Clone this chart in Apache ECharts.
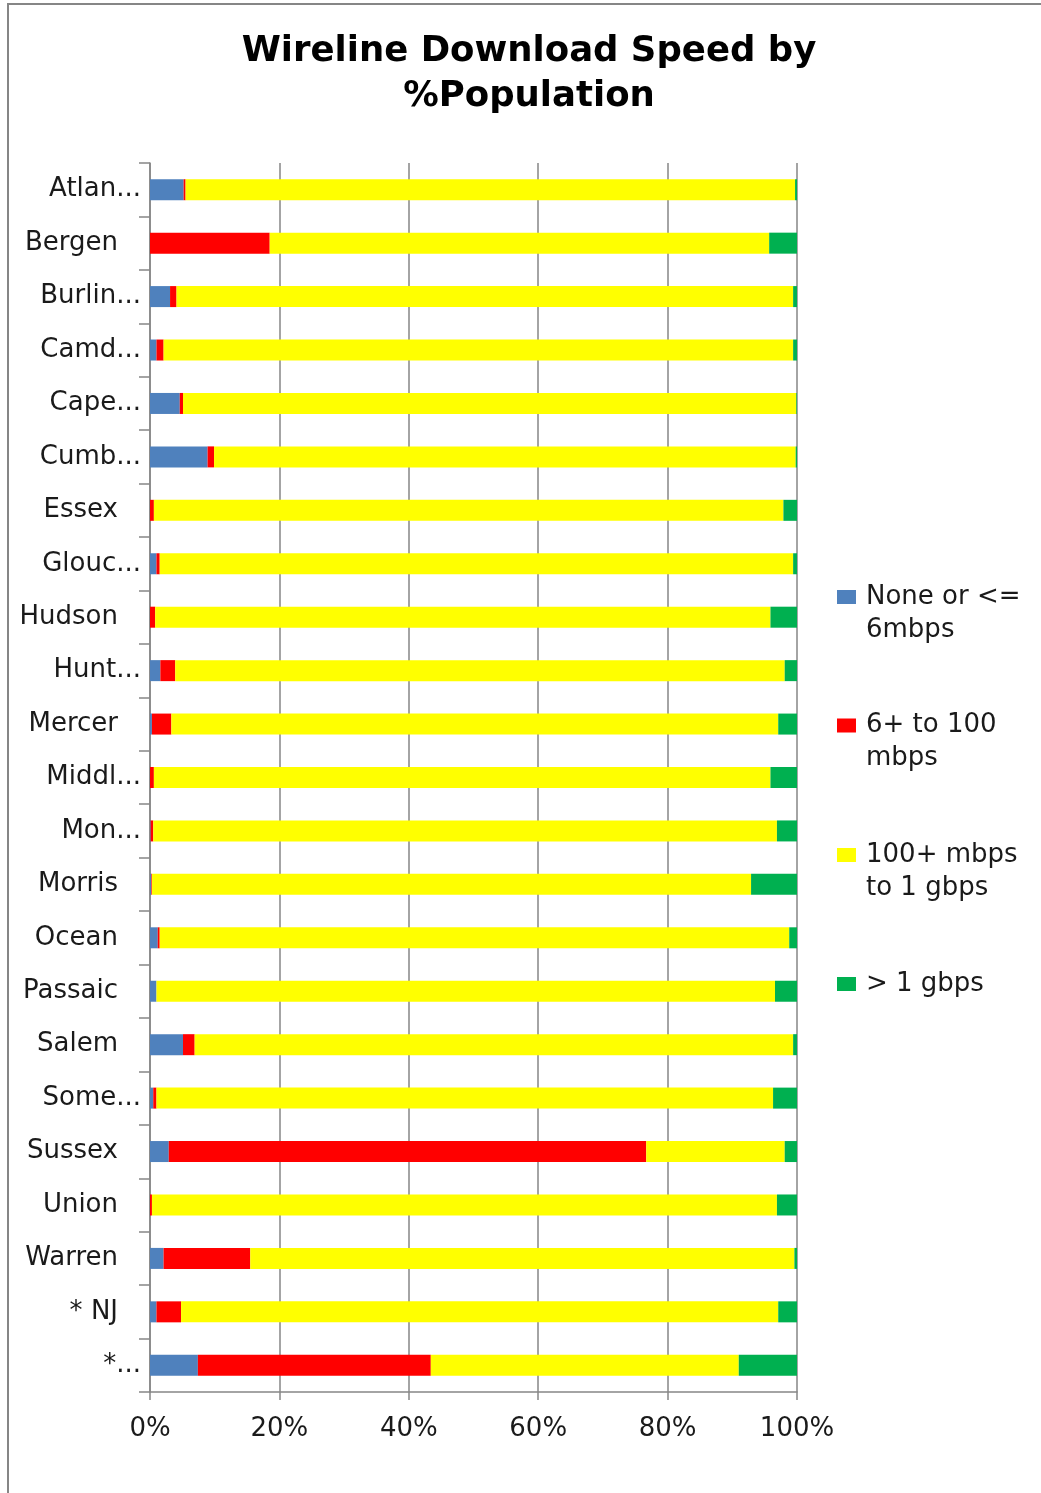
<!DOCTYPE html>
<html>
<head>
<meta charset="utf-8">
<script src="https://cdn.jsdelivr.net/npm/echarts@6/dist/echarts.min.js"></script>
<style>
html,body{margin:0;padding:0;background:#fff;}
#chart{width:1041px;height:1493px;}
</style>
</head>
<body>
<div id="chart"></div>
<script>
var categories = ["Atlan...", "Bergen", "Burlin...", "Camd...", "Cape...", "Cumb...", "Essex", "Glouc...", "Hudson", "Hunt...", "Mercer", "Middl...", "Mon...", "Morris", "Ocean", "Passaic", "Salem", "Some...", "Sussex", "Union", "Warren", "* NJ", "*..."];
var seriesNames = ["None or <=\n6mbps", "6+ to 100\nmbps", "100+ mbps\nto 1 gbps", "> 1 gbps"];
var noneOrLow = [5.2, 0, 3.1, 1.0, 4.6, 8.9, 0, 1.0, 0, 1.6, 0.3, 0, 0.1, 0.2, 1.2, 1.0, 5.1, 0.5, 2.9, 0, 2.1, 1.0, 7.4];
var mid = [0.3, 18.5, 1.0, 1.1, 0.5, 1.0, 0.6, 0.5, 0.8, 2.3, 3.0, 0.6, 0.4, 0.1, 0.3, 0, 1.8, 0.5, 73.8, 0.3, 13.4, 3.8, 36.0];
var high = [94.2, 77.2, 95.3, 97.3, 94.8, 89.9, 97.3, 97.9, 95.1, 94.2, 93.8, 95.3, 96.4, 92.6, 97.3, 95.6, 92.5, 95.3, 21.4, 96.6, 84.1, 92.3, 47.6];
var gig = [0.3, 4.3, 0.6, 0.6, 0.1, 0.2, 2.1, 0.6, 4.1, 1.9, 2.9, 4.1, 3.1, 7.1, 1.2, 3.4, 0.6, 3.7, 1.9, 3.1, 0.4, 2.9, 9.0];
var xTicks = [0, 20, 40, 60, 80, 100];
var colors = ["#4F81BD", "#FF0000", "#FFFF00", "#00B050"];

var FONT = "DejaVu Sans";
var FS = 26;
var gray = "#868686";
var textColor = "#1a1a1a";

var chart = echarts.init(document.getElementById('chart'), null, {renderer: 'canvas'});

var tallIcon = 'path://M0,0h19v14h-19z M24,47l0.01,0l0,0.01z';
var shortIcon = 'path://M0,0h19v14h-19z M24,14l0.01,0l0,-0.01z';
var legendTops = [580.5, 709, 838.5, 967.5];

var legends = seriesNames.map(function (name, i) {
  var single = name.indexOf('\n') < 0;
  return {
    show: true,
    orient: 'vertical',
    left: 837,
    top: legendTops[i],
    padding: 0,
    itemWidth: 24,
    itemHeight: single ? 14 : 47,
    selectedMode: false,
    data: [{name: name, icon: single ? shortIcon : tallIcon}],
    textStyle: {fontFamily: FONT, fontSize: FS, lineHeight: 33, color: textColor}
  };
});

var dataArrays = [noneOrLow, mid, high, gig];
var series = dataArrays.map(function (arr, i) {
  return {
    name: seriesNames[i],
    type: 'bar',
    stack: 'total',
    barWidth: 21,
    itemStyle: {color: colors[i]},
    emphasis: {disabled: true},
    data: arr
  };
});

chart.setOption({
  animation: false,
  backgroundColor: '#ffffff',
  title: {
    text: 'Wireline Download Speed by\n%Population',
    left: 529,
    textAlign: 'center',
    top: 29.5,
    padding: 0,
    textStyle: {fontFamily: FONT, fontWeight: 'bold', fontSize: 35.5, lineHeight: 45, color: '#000'}
  },
  graphic: [{
    type: 'rect',
    shape: {x: 8, y: 4, width: 1200, height: 1700},
    style: {fill: 'none', stroke: gray, lineWidth: 2},
    silent: true
  }],
  legend: legends,
  grid: {left: 150, right: 244, top: 163, bottom: 101, containLabel: false},
  xAxis: {
    type: 'value',
    min: 0,
    max: 100,
    interval: 20,
    axisLine: {show: true, lineStyle: {color: gray, width: 1.5}},
    axisTick: {show: true, length: 8, lineStyle: {color: gray, width: 1.5}},
    splitLine: {show: true, lineStyle: {color: gray, width: 1.5}},
    axisLabel: {
      margin: 24,
      fontFamily: FONT, fontSize: FS, color: textColor,
      formatter: function (v) { return xTicks.indexOf(v) >= 0 ? v + '%' : ''; }
    }
  },
  yAxis: {
    type: 'category',
    inverse: true,
    data: categories,
    axisLine: {show: true, lineStyle: {color: gray, width: 1.5}},
    axisTick: {show: true, length: 11, alignWithLabel: false, lineStyle: {color: gray, width: 1.5}},
    splitLine: {show: false},
    axisLabel: {
      margin: 9,
      interval: 0,
      fontFamily: FONT, fontSize: FS, color: textColor,
      formatter: function (v) {
        return /\.\.\.$/.test(v) ? '{t|' + v + '}' : '{f|' + v + '}';
      },
      rich: {
        t: {fontFamily: FONT, fontSize: FS, color: textColor},
        f: {fontFamily: FONT, fontSize: FS, color: textColor, padding: [0, 23, 0, 0]}
      }
    }
  },
  series: series
});
</script>
</body>
</html>
